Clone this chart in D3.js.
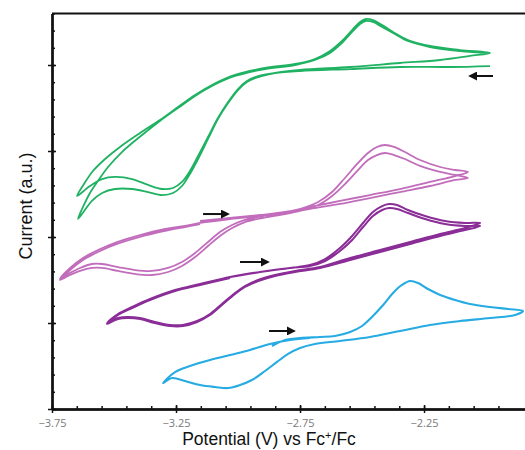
<!DOCTYPE html>
<html>
<head>
<meta charset="utf-8">
<script src="https://cdn.jsdelivr.net/npm/d3@7"></script>
<style>
  body { margin: 0; background: #fff; }
  text { font-family: "Liberation Sans", Arial, sans-serif; }
</style>
</head>
<body>
<div id="chart"></div>
<script>
// potential (V vs Fc+/Fc), current (a.u.)
let xTicksMajor = [-3.75, -3.25, -2.75, -2.25]
let xDomain = [-3.75, -1.843]
let yDomain = [0, 4.6]
let yTicksMajor = [0, 1, 2, 3, 4]

// green CV, two cycles, scan starts on the right going negative
let greenCV = [
  [-1.984,3.988],[-2.145,3.977],[-2.347,3.977],[-2.548,3.953],[-2.75,3.930],[-2.851,3.907],[-2.919,3.872],[-2.964,3.814],[-3.0,3.721],[-3.040,3.570],[-3.081,3.384],[-3.121,3.163],[-3.161,2.942],[-3.194,2.767],[-3.226,2.640],[-3.262,2.570],[-3.306,2.558],[-3.363,2.605],[-3.427,2.674],[-3.496,2.698],[-3.548,2.674],[-3.597,2.593],[-3.649,2.477],
  [-3.621,2.616],[-3.585,2.767],[-3.536,2.907],[-3.476,3.047],[-3.395,3.209],[-3.315,3.360],[-3.242,3.512],[-3.173,3.651],[-3.105,3.767],[-3.012,3.884],[-2.891,3.965],[-2.770,4.012],[-2.690,4.070],[-2.629,4.163],[-2.581,4.279],[-2.540,4.407],[-2.508,4.5],[-2.484,4.535],[-2.456,4.523],[-2.419,4.465],[-2.375,4.384],[-2.315,4.291],[-2.226,4.221],[-2.105,4.174],[-1.984,4.140],
  [-2.065,4.105],[-2.185,4.058],[-2.347,4.023],[-2.548,3.977],[-2.75,3.942],[-2.851,3.907],[-2.919,3.860],[-2.964,3.802],[-3.0,3.709],[-3.040,3.558],[-3.081,3.372],[-3.121,3.140],[-3.161,2.907],[-3.194,2.733],[-3.226,2.593],[-3.262,2.512],[-3.306,2.488],[-3.363,2.523],[-3.427,2.558],[-3.496,2.558],[-3.548,2.512],[-3.589,2.419],[-3.645,2.209],
  [-3.625,2.349],[-3.597,2.512],[-3.565,2.651],[-3.524,2.814],[-3.468,2.988],[-3.387,3.186],[-3.315,3.349],[-3.242,3.5],[-3.173,3.640],[-3.105,3.756],[-3.012,3.872],[-2.891,3.953],[-2.770,4.0],[-2.690,4.058],[-2.629,4.140],[-2.581,4.256],[-2.540,4.384],[-2.508,4.477],[-2.484,4.512],[-2.456,4.5],[-2.419,4.442],[-2.375,4.372],[-2.315,4.279],[-2.226,4.209],[-2.105,4.163],[-1.984,4.140]
]

// pink CV, two cycles
let pinkCV = [
  [-3.153,2.186],[-3.032,2.221],[-2.911,2.256],[-2.810,2.291],[-2.738,2.337],[-2.677,2.407],[-2.621,2.523],[-2.569,2.686],[-2.520,2.849],[-2.476,2.977],[-2.440,3.047],[-2.407,3.070],[-2.371,3.047],[-2.327,2.988],[-2.266,2.895],[-2.185,2.814],[-2.125,2.779],[-2.073,2.756],
  [-2.125,2.709],[-2.226,2.640],[-2.347,2.558],[-2.468,2.488],[-2.589,2.419],[-2.710,2.349],[-2.810,2.291],[-2.903,2.244],[-2.972,2.198],[-3.024,2.140],[-3.073,2.058],[-3.121,1.942],[-3.173,1.814],[-3.226,1.709],[-3.282,1.640],[-3.347,1.605],[-3.415,1.616],[-3.484,1.651],[-3.548,1.686],[-3.589,1.686],[-3.637,1.640],[-3.685,1.570],[-3.718,1.512],
  [-3.677,1.640],[-3.625,1.756],[-3.556,1.860],[-3.488,1.942],[-3.395,2.023],[-3.294,2.093],[-3.214,2.128],[-3.153,2.163],
  [-3.032,2.209],[-2.911,2.244],[-2.810,2.279],[-2.738,2.314],[-2.677,2.372],[-2.621,2.477],[-2.569,2.616],[-2.520,2.767],[-2.476,2.895],[-2.440,2.953],[-2.407,2.977],[-2.371,2.953],[-2.327,2.907],[-2.266,2.826],[-2.185,2.756],[-2.125,2.721],[-2.073,2.686],
  [-2.125,2.663],[-2.226,2.593],[-2.347,2.523],[-2.468,2.453],[-2.589,2.384],[-2.710,2.326],[-2.810,2.267],[-2.903,2.221],[-2.972,2.174],[-3.024,2.105],[-3.073,2.012],[-3.121,1.895],[-3.173,1.767],[-3.226,1.663],[-3.282,1.593],[-3.347,1.558],[-3.415,1.570],[-3.484,1.605],[-3.548,1.640],[-3.589,1.640],[-3.637,1.605],[-3.685,1.547],[-3.718,1.5],
  [-3.677,1.616],[-3.625,1.733],[-3.556,1.837],[-3.488,1.919],[-3.395,2.0],[-3.294,2.070],[-3.214,2.116],[-3.153,2.151]
]

// purple CV, two cycles
let purpleCV = [
  [-3.032,1.535],[-2.911,1.593],[-2.790,1.640],[-2.710,1.674],[-2.649,1.744],[-2.589,1.872],[-2.540,2.012],[-2.496,2.163],[-2.456,2.291],[-2.419,2.360],[-2.391,2.384],[-2.359,2.372],[-2.315,2.314],[-2.246,2.244],[-2.165,2.186],[-2.085,2.163],[-2.024,2.163],
  [-2.085,2.105],[-2.185,2.035],[-2.306,1.942],[-2.427,1.849],[-2.548,1.756],[-2.669,1.651],[-2.770,1.605],[-2.851,1.558],[-2.919,1.5],[-2.972,1.430],[-3.012,1.349],[-3.065,1.221],[-3.113,1.105],[-3.165,1.023],[-3.222,0.977],[-3.274,0.977],[-3.335,1.012],[-3.395,1.058],[-3.444,1.070],[-3.484,1.058],[-3.528,1.0],
  [-3.484,1.105],[-3.427,1.186],[-3.355,1.279],[-3.254,1.384],[-3.153,1.453],[-3.032,1.535],
  [-2.911,1.593],[-2.790,1.640],[-2.710,1.663],[-2.649,1.721],[-2.589,1.837],[-2.540,1.965],[-2.496,2.116],[-2.456,2.244],[-2.419,2.314],[-2.391,2.337],[-2.359,2.326],[-2.315,2.279],[-2.246,2.209],[-2.165,2.151],[-2.085,2.128],[-2.024,2.128],
  [-2.085,2.081],[-2.185,2.012],[-2.306,1.919],[-2.427,1.826],[-2.548,1.733],[-2.669,1.640],[-2.770,1.593],[-2.851,1.547],[-2.919,1.488],[-2.972,1.419],[-3.012,1.337],[-3.065,1.209],[-3.113,1.093],[-3.165,1.012],[-3.222,0.965],[-3.274,0.965],[-3.335,1.0],[-3.395,1.047],[-3.444,1.058],[-3.484,1.047],[-3.528,0.988],
  [-3.484,1.093],[-3.427,1.174],[-3.355,1.267],[-3.254,1.372],[-3.153,1.442],[-3.032,1.523]
]

// cyan CV, one cycle
let cyanCV = [
  [-2.863,0.733],[-2.810,0.802],[-2.75,0.826],[-2.669,0.837],[-2.609,0.849],[-2.548,0.895],[-2.5,0.965],[-2.460,1.070],[-2.415,1.209],[-2.375,1.349],[-2.339,1.442],[-2.306,1.488],[-2.274,1.465],[-2.234,1.395],[-2.185,1.326],[-2.125,1.267],[-2.065,1.221],[-1.984,1.186],[-1.911,1.163],[-1.851,1.140],
  [-1.883,1.093],[-1.984,1.058],[-2.105,1.023],[-2.226,0.977],[-2.347,0.907],[-2.468,0.837],[-2.589,0.791],[-2.690,0.756],[-2.75,0.709],[-2.798,0.640],[-2.843,0.547],[-2.891,0.442],[-2.944,0.337],[-2.992,0.279],[-3.040,0.244],[-3.093,0.256],[-3.153,0.279],[-3.214,0.326],[-3.266,0.360],[-3.302,0.302],
  [-3.254,0.430],[-3.194,0.5],[-3.113,0.570],[-3.032,0.628],[-2.952,0.686],[-2.871,0.756],[-2.790,0.802],[-2.710,0.826]
]

let seriesData = [greenCV, pinkCV, purpleCV, cyanCV]
let seriesColors = ["#20b263", "#c26dbc", "#8a2d97", "#26abe3"]
let seriesWidths = [1.8, 1.8, 2, 2.1]

// scan direction arrows: [start V, end V, current]
let arrows = [
  [-1.972, -2.065, 3.872],
  [-3.141, -3.040, 2.267],
  [-2.992, -2.879, 1.709],
  [-2.875, -2.774, 0.907]
]

let width = 525
let height = 450
let chartLeft = 52
let chartRight = 525
let chartTop = 13.4
let chartBottom = 409

let svg = d3.select("#chart").append("svg")
  .attr("width", width)
  .attr("height", height)

let xscale = d3.scaleLinear().domain(xDomain).range([chartLeft, chartRight])
let yscale = d3.scaleLinear().domain(yDomain).range([chartBottom, chartTop])

let xMinor = d3.range(-3.75, -1.85, 0.1).map(d => Math.round(d*100)/100)
let yMinor = d3.range(0, 4.61, 0.2).map(d => Math.round(d*100)/100)

function styleAxis(g){
  g.select(".domain").attr("stroke", "#111").attr("stroke-width", 2)
  g.selectAll(".tick line").attr("stroke", "#111").attr("stroke-width", 1.5)
}

// minor ticks (inside)
svg.append("g")
  .attr("transform", "translate(0," + chartBottom + ")")
  .call(d3.axisBottom(xscale).tickValues(xMinor).tickSize(-3).tickSizeOuter(0).tickFormat(""))
  .call(styleAxis)
svg.append("g")
  .attr("transform", "translate(" + chartLeft + ",0)")
  .call(d3.axisLeft(yscale).tickValues(yMinor).tickSize(-3).tickSizeOuter(0).tickFormat(""))
  .call(styleAxis)

// major ticks cross the axis
svg.append("g")
  .attr("transform", "translate(0," + chartBottom + ")")
  .call(d3.axisBottom(xscale).tickValues(xTicksMajor).tickSize(-4).tickSizeOuter(0).tickFormat(""))
  .call(styleAxis)
let xAxis = svg.append("g")
  .attr("transform", "translate(0," + chartBottom + ")")
  .call(d3.axisBottom(xscale).tickValues(xTicksMajor).tickSize(4).tickPadding(6).tickSizeOuter(0).tickFormat(d3.format(".2f")))
  .call(styleAxis)
xAxis.selectAll(".tick text")
  .attr("fill", "#7a7a7a")
  .style("font-size", "11px")
  .style("font-family", "'Open Sans', 'Liberation Sans', sans-serif")

svg.append("g")
  .attr("transform", "translate(" + chartLeft + ",0)")
  .call(d3.axisLeft(yscale).tickValues(yTicksMajor).tickSize(4).tickSizeOuter(0).tickFormat(""))
  .call(styleAxis)
svg.append("g")
  .attr("transform", "translate(" + chartLeft + ",0)")
  .call(d3.axisLeft(yscale).tickValues(yTicksMajor).tickSize(-4).tickSizeOuter(0).tickFormat(""))
  .call(styleAxis)

// top frame line
svg.append("line")
  .attr("x1", chartLeft).attr("x2", chartRight)
  .attr("y1", yscale(yDomain[1])).attr("y2", yscale(yDomain[1]))
  .attr("stroke", "#111").attr("stroke-width", 2)

let lineFunction = d3.line()
  .x(d => xscale(d[0]))
  .y(d => yscale(d[1]))
  .curve(d3.curveCatmullRom.alpha(0.5))

svg.selectAll(".cv")
  .data(seriesData)
  .enter()
  .append("path")
  .attr("class", "cv")
  .attr("d", d => lineFunction(d))
  .attr("fill", "none")
  .attr("stroke", (d, i) => seriesColors[i])
  .attr("stroke-width", (d, i) => seriesWidths[i])
  .attr("stroke-linejoin", "round")

// arrow heads
svg.append("defs").append("marker")
  .attr("id", "head")
  .attr("viewBox", "0 0 10 10")
  .attr("refX", 8).attr("refY", 5)
  .attr("markerWidth", 4.5).attr("markerHeight", 4.5)
  .attr("orient", "auto")
  .append("path")
  .attr("d", "M0,0 L10,5 L0,10 z")
  .attr("fill", "#111")

svg.selectAll(".arrow")
  .data(arrows)
  .enter()
  .append("line")
  .attr("class", "arrow")
  .attr("x1", d => xscale(d[0]))
  .attr("x2", d => xscale(d[1]))
  .attr("y1", d => yscale(d[2]))
  .attr("y2", d => yscale(d[2]))
  .attr("stroke", "#111")
  .attr("stroke-width", 2)
  .attr("marker-end", "url(#head)")

// axis titles
let xTitle = svg.append("text")
  .attr("x", 269)
  .attr("y", 445)
  .attr("text-anchor", "middle")
  .style("font-size", "17.5px")
  .attr("fill", "#111")
xTitle.append("tspan").text("Potential (V) vs Fc")
xTitle.append("tspan").text("+").attr("baseline-shift", "super").style("font-size", "11px")
xTitle.append("tspan").text("/Fc")

svg.append("text")
  .attr("transform", "translate(32,206) rotate(-90)")
  .attr("text-anchor", "middle")
  .style("font-size", "18px")
  .attr("fill", "#111")
  .text("Current (a.u.)")
</script>
</body>
</html>
